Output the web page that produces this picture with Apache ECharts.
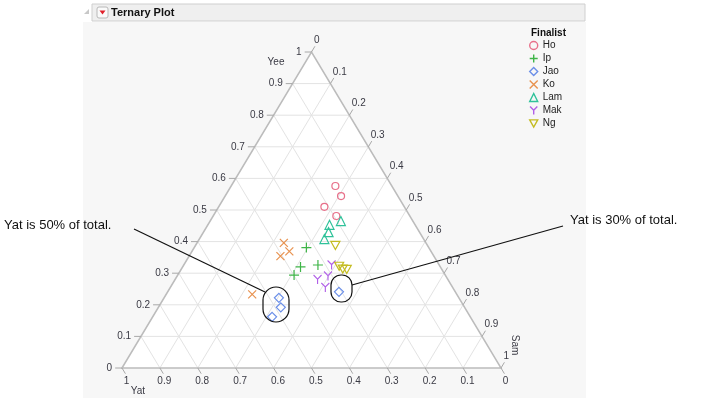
<!DOCTYPE html>
<html lang="en">
<head>
    <meta charset="UTF-8">
    <title>Ternary Plot</title>
    <script type="text/javascript" src="https://cdnjs.cloudflare.com/ajax/libs/echarts/6.0.0/echarts.min.js"></script>
    <style>
        html, body { margin: 0; padding: 0; background: #fff; }
    </style>
</head>
<body>
    <div id="main" style="width: 719px; height: 398px"></div>
    <script type="text/javascript">
        // points are [Yat, Yee, Sam]
        var finalists = ['Ho', 'Ip', 'Jao', 'Ko', 'Lam', 'Mak', 'Ng'];
        var hoPts  = [[0.149, 0.576, 0.275], [0.150, 0.544, 0.306], [0.211, 0.510, 0.279], [0.194, 0.481, 0.325]];
        var ipPts  = [[0.323, 0.381, 0.296], [0.369, 0.320, 0.311], [0.320, 0.326, 0.354], [0.399, 0.294, 0.307]];
        var jaoPts = [[0.475, 0.222, 0.303], [0.485, 0.192, 0.323], [0.523, 0.162, 0.315], [0.307, 0.241, 0.452]];
        var koPts  = [[0.375, 0.396, 0.229], [0.374, 0.369, 0.257], [0.405, 0.354, 0.241], [0.540, 0.233, 0.227]];
        var lamPts = [[0.190, 0.465, 0.345], [0.226, 0.453, 0.321], [0.240, 0.430, 0.330], [0.262, 0.408, 0.330]];
        var makPts = [[0.284, 0.326, 0.390], [0.311, 0.291, 0.398], [0.344, 0.280, 0.376], [0.336, 0.255, 0.409]];
        var ngPts  = [[0.243, 0.388, 0.369], [0.266, 0.322, 0.412], [0.261, 0.313, 0.426], [0.251, 0.312, 0.437]];

        var tickValues = [0, 0.1, 0.2, 0.3, 0.4, 0.5, 0.6, 0.7, 0.8, 0.9, 1];
        var tickLabels = ['0', '0.1', '0.2', '0.3', '0.4', '0.5', '0.6', '0.7', '0.8', '0.9', '1'];

        var colors = ['#e8708a', '#3fb548', '#6b8fe8', '#e8924f', '#2fc29a', '#b160e8', '#c4bc22'];
        var FONT = '"Liberation Sans", Arial, sans-serif';

        // ternary (Yat, Yee, Sam) -> plane x/y used by the hidden axes
        function tern(yat, yee, sam) {
            return [sam + yee / 2, yee];
        }

        // grid lines
        var gridSegs = [];
        tickValues.slice(1, 10).forEach(function (v) {
            var a, b;
            a = tern(1 - v, v, 0); b = tern(0, v, 1 - v); gridSegs.push(a.concat(b));
            a = tern(v, 1 - v, 0); b = tern(v, 0, 1 - v); gridSegs.push(a.concat(b));
            a = tern(1 - v, 0, v); b = tern(0, 1 - v, v); gridSegs.push(a.concat(b));
        });

        // ticks + labels on three edges
        var d = 0.018;
        var ticks = [];
        tickValues.forEach(function (v, i) {
            ticks.push({ s: tern(1 - v, v, 0), e: tern(1 - v + d, v, -d), text: tickLabels[i], side: 'left' });
            ticks.push({ s: tern(v, 0, 1 - v), e: tern(v, -d, 1 - v + d), text: tickLabels[i], side: 'bottom' });
            ticks.push({ s: tern(0, 1 - v, v), e: tern(-d, 1 - v + d, v), text: tickLabels[i], side: 'right' });
        });

        var corners = [tern(1, 0, 0), tern(0, 1, 0), tern(0, 0, 1)];

        var symbols = {
            Ho: { symbol: 'circle', size: 7 },
            Ip: { symbol: 'path://M0,5L10,5M5,0L5,10', size: 10 },
            Jao: { symbol: 'diamond', size: 9 },
            Ko: { symbol: 'path://M0,0L10,10M10,0L0,10', size: 8 },
            Lam: { symbol: 'triangle', size: 9 },
            Mak: { symbol: 'path://M0,0L5,5L10,0M5,5L5,11', size: [8, 9] },
            Ng: { symbol: 'path://M0,0L10,0L5,9Z', size: [9, 8] }
        };
        var pointSets = [hoPts, ipPts, jaoPts, koPts, lamPts, makPts, ngPts];

        var myChart = echarts.init(document.getElementById('main'));

        var series = [{
            type: 'custom',
            name: 'frameFill',
            silent: true,
            z: 1,
            data: [[0, 0]],
            renderItem: function (params, api) {
                var pts = corners.map(function (c) { return api.coord(c); });
                return { type: 'polygon', shape: { points: pts }, style: { fill: '#fff', stroke: null } };
            }
        }, {
            type: 'custom',
            name: 'gridLines',
            silent: true,
            z: 2,
            data: gridSegs,
            encode: { x: [0, 2], y: [1, 3] },
            renderItem: function (params, api) {
                var a = api.coord([api.value(0), api.value(1)]);
                var b = api.coord([api.value(2), api.value(3)]);
                return { type: 'line', shape: { x1: a[0], y1: a[1], x2: b[0], y2: b[1] }, style: { stroke: '#e3e3e3', lineWidth: 1 } };
            }
        }, {
            type: 'custom',
            name: 'frameEdge',
            silent: true,
            z: 3,
            data: [[0, 0]],
            renderItem: function (params, api) {
                var pts = corners.map(function (c) { return api.coord(c); });
                return { type: 'polygon', shape: { points: pts }, style: { fill: null, stroke: '#bcbcbc', lineWidth: 1.5 } };
            }
        }, {
            type: 'custom',
            name: 'ticks',
            silent: true,
            z: 3,
            data: ticks.map(function (t) { return t.s.concat(t.e); }),
            encode: { x: [0, 2], y: [1, 3] },
            renderItem: function (params, api) {
                var t = ticks[params.dataIndex];
                var a = api.coord(t.s);
                var b = api.coord(t.e);
                var tx, ty, align, valign;
                if (t.side === 'left') { tx = b[0] - 3; ty = b[1]; align = 'right'; valign = 'middle'; }
                else if (t.side === 'bottom') { tx = b[0] + 1; ty = b[1] + 3; align = 'center'; valign = 'top'; }
                else { tx = b[0] - 1; ty = b[1] - 1; align = 'left'; valign = 'bottom'; }
                return {
                    type: 'group',
                    children: [{
                        type: 'line',
                        shape: { x1: a[0], y1: a[1], x2: b[0], y2: b[1] },
                        style: { stroke: '#a8a8a8', lineWidth: 1 }
                    }, {
                        type: 'text',
                        style: { x: tx, y: ty, text: t.text, align: align, verticalAlign: valign, fill: '#3a3a44', font: '10px ' + FONT }
                    }]
                };
            }
        }];

        finalists.forEach(function (name, i) {
            var s = symbols[name];
            series.push({
                type: 'scatter',
                name: name,
                z: 5,
                symbol: s.symbol,
                symbolSize: s.size,
                itemStyle: { color: 'rgba(0,0,0,0)', borderColor: colors[i], borderWidth: 1.2, opacity: 1 },
                data: pointSets[i].map(function (p) { return tern(p[0], p[1], p[2]); })
            });
        });

        myChart.setOption({
            animation: false,
            grid: { left: 122, top: 52, width: 379, height: 316 },
            xAxis: { type: 'value', min: 0, max: 1, show: false },
            yAxis: { type: 'value', min: 0, max: 1, show: false },
            legend: {
                orient: 'vertical',
                left: 529,
                top: 40,
                padding: 0,
                itemWidth: 8,
                itemHeight: 8,
                itemGap: 2,
                itemStyle: { borderWidth: 1.4 },
                textStyle: { fontSize: 10, lineHeight: 11, color: '#222', fontFamily: FONT },
                data: finalists
            },
            graphic: [
                { type: 'rect', z: -10, shape: { x: 83, y: 22, width: 503, height: 376 }, style: { fill: '#f7f7f7' } },
                { type: 'rect', z: -9, shape: { x: 92, y: 4, width: 493, height: 17 }, style: { fill: '#efefef', stroke: '#cfcfcf', lineWidth: 1 } },
                { type: 'polygon', z: -8, shape: { points: [[84, 14], [89, 9], [89, 14]] }, style: { fill: '#c8c8c8' } },
                { type: 'rect', z: -8, shape: { x: 97, y: 7, width: 11, height: 11, r: 2 }, style: { fill: '#fafafa', stroke: '#b8b8b8', lineWidth: 1 } },
                { type: 'polygon', z: -7, shape: { points: [[99.5, 10.5], [105.5, 10.5], [102.5, 14.5]] }, style: { fill: '#e0202a' } },
                { type: 'text', z: -7, style: { x: 111, y: 13, text: 'Ternary Plot', font: 'bold 11px ' + FONT, fill: '#111', verticalAlign: 'middle' } },
                { type: 'text', style: { x: 531, y: 33, text: 'Finalist', font: 'bold 10px ' + FONT, fill: '#111', verticalAlign: 'middle' } },
                { type: 'text', style: { x: 276, y: 62, text: 'Yee', font: '10px ' + FONT, fill: '#3a3a44', align: 'center', verticalAlign: 'middle' } },
                { type: 'text', style: { x: 138, y: 391, text: 'Yat', font: '10px ' + FONT, fill: '#3a3a44', align: 'center', verticalAlign: 'middle' } },
                { type: 'text', x: 515, y: 345, rotation: -Math.PI / 2, style: { x: 0, y: 0, text: 'Sam', font: '10px ' + FONT, fill: '#3a3a44', align: 'center', verticalAlign: 'middle' } },
                // callouts
                { type: 'text', z: 20, style: { x: 4, y: 225, text: 'Yat is 50% of total.', font: '13px ' + FONT, fill: '#111', verticalAlign: 'middle' } },
                { type: 'line', z: 20, shape: { x1: 134, y1: 229, x2: 265, y2: 292 }, style: { stroke: '#111', lineWidth: 1.2 } },
                { type: 'rect', z: 20, shape: { x: 263, y: 287, width: 26, height: 35, r: 13 }, style: { fill: null, stroke: '#111', lineWidth: 1.2 } },
                { type: 'rect', z: 20, shape: { x: 331, y: 275, width: 21, height: 27, r: 10 }, style: { fill: null, stroke: '#111', lineWidth: 1.2 } },
                { type: 'line', z: 20, shape: { x1: 352, y1: 285, x2: 563, y2: 226 }, style: { stroke: '#111', lineWidth: 1.2 } },
                { type: 'text', z: 20, style: { x: 570, y: 220, text: 'Yat is 30% of total.', font: '13px ' + FONT, fill: '#111', verticalAlign: 'middle' } }
            ],
            series: series
        });
    </script>
</body>
</html>
